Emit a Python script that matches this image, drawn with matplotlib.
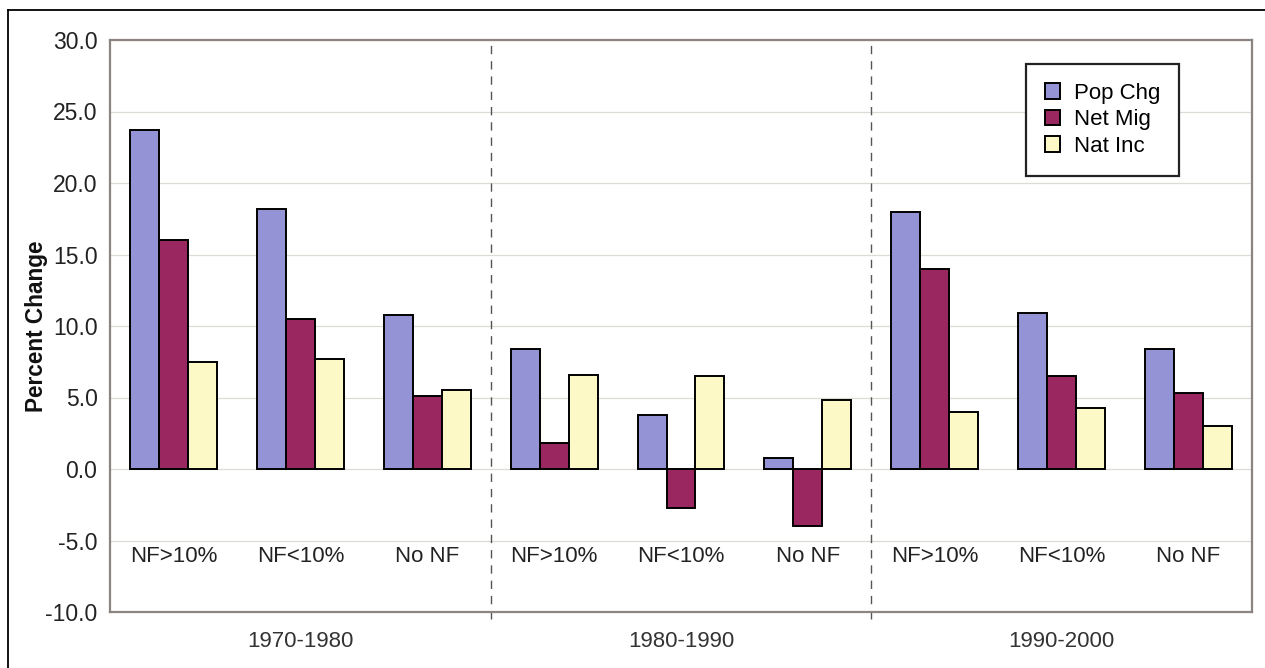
import numpy as np
import matplotlib.pyplot as plt
from matplotlib.lines import Line2D

plt.rcParams["font.family"] = ["Liberation Sans", "DejaVu Sans"]

# data
periods = ["1970-1980", "1980-1990", "1990-2000"]
groups = ["NF>10%", "NF<10%", "No NF"]
series_names = ["Pop Chg", "Net Mig", "Nat Inc"]
pop_chg = [23.7, 18.2, 10.8, 8.4, 3.8, 0.8, 18.0, 10.9, 8.4]
net_mig = [16.0, 10.5, 5.1, 1.8, -2.7, -4.0, 14.0, 6.5, 5.3]
nat_inc = [7.5, 7.7, 5.5, 6.6, 6.5, 4.8, 4.0, 4.3, 3.0]
colors = ["#9393d6", "#9b2760", "#fcf9c6"]

fig = plt.figure(figsize=(12.65, 6.68), dpi=100)
fig.patch.set_facecolor("white")
ax = fig.add_axes([110 / 1265, 56 / 668, 1142 / 1265, 572 / 668])

# outer frame (top and left edges visible)
fig.add_artist(Line2D([8 / 1265, 1.0], [1 - 10 / 668, 1 - 10 / 668], color="black", lw=1.3))
fig.add_artist(Line2D([8 / 1265, 8 / 1265], [0.0, 1 - 10 / 668], color="black", lw=1.3))

n = len(pop_chg)
x = np.arange(n)
w = 0.228
for i, vals in enumerate([pop_chg, net_mig, nat_inc]):
    ax.bar(x + (i - 1) * w, vals, width=w, color=colors[i], edgecolor="black",
           linewidth=1.4, label=series_names[i], zorder=3)

ax.set_xlim(-0.5, n - 0.5)
ax.set_ylim(-10, 30)
ax.set_yticks(np.arange(-10, 31, 5))
ax.set_yticklabels([f"{v:.1f}" for v in np.arange(-10, 31, 5)], fontsize=16.5, color="#222222")
ax.set_xticks([])
ax.tick_params(axis="y", length=0, pad=9)
ax.grid(axis="y", color="#dedad6", linewidth=0.9, zorder=0)
ax.set_axisbelow(True)
for sp in ax.spines.values():
    sp.set_color("#8c8480")
    sp.set_linewidth(1.6)

ax.set_ylabel("Percent Change", fontsize=16.3, fontweight="bold", color="#111111", labelpad=-2)

# category labels inside the plot area
for k in range(n):
    ax.text(x[k], -6.1, groups[k % 3], ha="center", va="center", fontsize=16, color="#222222")

# period separators and labels
for b in [2.5, 5.5]:
    ax.plot([b, b], [-10.5, 30], ls=(0, (6, 5)), color="#555555", lw=1.0, clip_on=False, zorder=2)
for j, p in enumerate(periods):
    ax.annotate(p, xy=(3 * j + 1, 0), xycoords=("data", "axes fraction"),
                xytext=(0, -21), textcoords="offset points", ha="center", va="center",
                fontsize=16, color="#333333")

leg = ax.legend(loc="upper left", bbox_to_anchor=(0.802, 0.958), borderaxespad=0,
                fontsize=16, frameon=True, fancybox=False, handlelength=0.7,
                handleheight=0.7, handletextpad=0.6, labelspacing=0.25,
                borderpad=0.85)
leg.get_frame().set_edgecolor("#222222")
leg.get_frame().set_linewidth(1.6)
leg.get_frame().set_alpha(1)

fig.savefig("out.png", dpi=100, facecolor="white")
